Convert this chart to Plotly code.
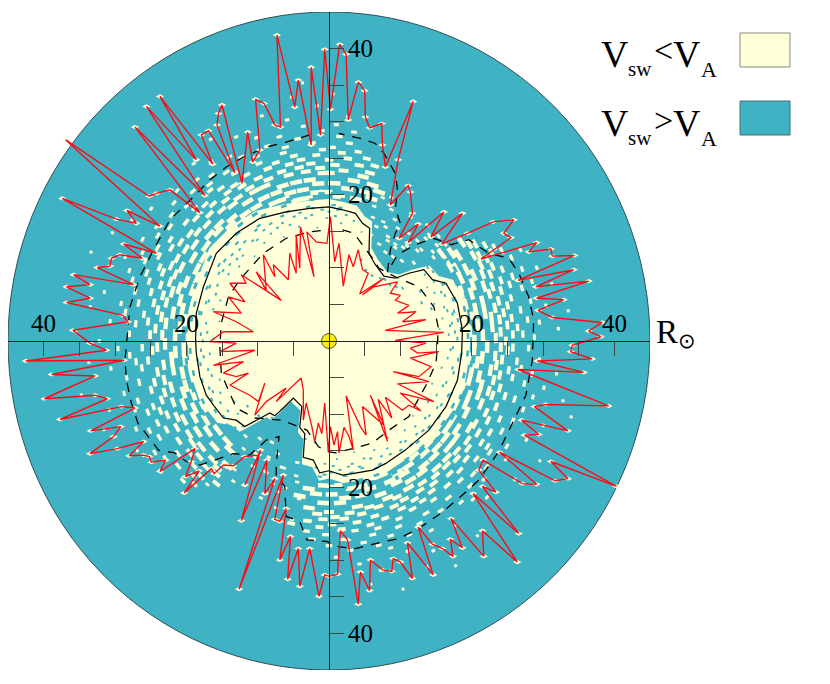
import numpy as np
import plotly.graph_objects as go

TEAL = '#3FB3C4'
CREAM = '#FFFFD9'
RED = '#FF0A14'

# curves, in solar radii (y read with the x scale, see Y_SCALE)
outer_x = [0.2, 1.5, 2.4, 2.7, 4.1, 5.0, 5.1, 5.7, 7.4, 7.5, 7.9, 11.8, 9.7, 8.6, 11.1, 11.4, 11.7, 9.8, 12.5, 11.1,
           16.1, 14.3, 18.7, 15.8, 19.4, 23.0, 25.9, 24.5, 25.5, 21.3, 29.1, 28.0, 31.1, 31.3, 34.4, 26.5, 34.3, 29.0,
           36.4, 29.1, 32.9, 29.3, 31.3, 38.3, 36.4, 38.1, 34.1, 33.9, 36.9, 29.2, 35.7, 26.5, 39.2, 30.4, 28.8, 33.5,
           27.0, 29.4, 27.4, 40.3, 31.1, 33.5, 31.7, 23.9, 29.1, 27.1, 21.6, 21.0, 23.4, 21.5, 26.6, 20.2, 26.4, 21.5,
           21.7, 17.1, 18.7, 17.0, 17.4, 15.9, 14.5, 12.5, 14.6, 11.0, 11.7, 10.0, 9.0, 8.8, 7.5, 5.8, 5.7, 4.4, 4.1,
           2.6, 1.6, 1.2, 0.0, -0.6, -1.4, -2.7, -4.1, -4.3, -5.8, -5.4, -6.9, -6.0, -6.9, -7.6, -6.4, -12.6, -7.6,
           -9.0, -8.7, -12.3, -9.6, -11.8, -9.9, -11.8, -13.4, -14.8, -16.1, -16.5, -20.3, -18.2, -20.1, -19.3, -18.8,
           -23.7, -22.9, -24.9, -25.2, -26.0, -28.0, -26.0, -29.7, -33.5, -30.2, -29.2, -33.4, -27.2, -29.1, -37.7,
           -31.1, -32.8, -39.9, -32.8, -38.9, -28.7, -42.5, -31.2, -33.5, -35.9, -28.2, -28.9, -36.8, -33.5, -36.8,
           -33.5, -35.8, -27.4, -32.5, -30.7, -30.5, -29.3, -26.2, -28.8, -24.2, -37.4, -29.8, -27.0, -28.3, -23.7,
           -36.9, -25.2, -24.2, -22.3, -18.1, -27.2, -17.4, -25.6, -18.6, -23.7, -16.3, -17.9, -16.9, -13.2, -15.7,
           -15.5, -15.0, -12.2, -11.4, -10.7, -9.7, -10.3, -9.1, -7.6, -6.8, -7.3, -4.8, -4.3, -2.5, -2.5, -1.2, -0.6]
outer_y = [32.5, 41.6, 40.2, 31.0, 36.3, 35.1, 31.4, 29.9, 30.5, 27.5, 24.4, 33.6, 25.4, 19.1, 21.8, 20.9, 17.9, 14.4,
           16.4, 13.8, 18.1, 14.6, 17.9, 13.6, 15.1, 16.7, 17.0, 15.1, 14.5, 11.5, 13.8, 12.5, 12.9, 11.9, 12.0, 8.5,
           10.0, 7.6, 8.4, 6.0, 5.8, 4.3, 3.3, 2.6, 1.4, 0.6, -0.6, -1.5, -2.5, -2.8, -4.4, -4.0, -9.1, -8.9, -9.2,
           -12.6, -11.1, -13.1, -13.2, -20.4, -16.9, -19.3, -19.6, -15.6, -20.1, -20.0, -16.7, -18.1, -21.2, -20.4,
           -27.0, -21.4, -31.0, -26.6, -30.2, -24.9, -29.0, -27.8, -30.2, -29.1, -28.5, -26.1, -32.8, -28.3, -33.3,
           -31.0, -30.5, -32.3, -32.1, -30.7, -35.0, -32.4, -36.9, -27.9, -26.6, -32.7, -33.0, -32.8, -35.8, -29.1,
           -34.4, -29.1, -33.4, -27.4, -30.7, -23.5, -25.3, -25.0, -18.8, -34.8, -19.3, -21.4, -16.7, -25.2, -15.3,
           -20.2, -16.0, -16.2, -17.5, -17.4, -18.6, -17.9, -21.3, -18.2, -19.0, -16.9, -15.1, -18.3, -16.7, -17.0,
           -16.2, -16.0, -16.1, -14.1, -15.1, -15.8, -13.4, -12.0, -12.6, -9.4, -9.2, -11.0, -8.1, -7.6, -8.1, -4.9,
           -4.7, -2.7, -2.8, -1.3, -0.3, 1.5, 2.7, 3.6, 5.4, 6.0, 7.6, 7.9, 9.3, 7.9, 10.3, 10.5, 11.6, 12.1, 11.6,
           13.6, 12.3, 20.0, 17.1, 16.5, 18.3, 16.1, 28.2, 20.3, 20.7, 21.2, 18.0, 30.0, 20.4, 32.9, 25.4, 34.3, 24.8,
           28.9, 29.5, 23.6, 30.3, 31.9, 33.1, 22.1, 29.3, 25.1, 26.8, 33.9, 33.3, 30.3, 30.0, 42.9, 32.8, 36.6, 27.5,
           38.4, 28.9, 40.9]

inner_x = [0.2, 0.8, 1.4, 2.0, 2.8, 3.4, 4.1, 4.7, 5.5, 4.3, 7.7, 4.7, 6.3, 9.6, 8.6, 10.0, 9.3, 11.2, 9.6, 12.2, 10.3,
           13.6, 7.9, 16.1, 9.3, 13.6, 11.4, 12.4, 15.4, 11.4, 14.3, 12.6, 9.0, 14.0, 9.6, 14.7, 10.0, 12.9, 11.2, 10.3,
           7.9, 8.8, 6.9, 8.2, 5.8, 7.7, 4.7, 5.2, 4.4, 2.4, 3.4, 2.8, 2.1, 1.4, 1.2, 0.7, 0.2, -0.1, -0.6, -1.0, -1.5,
           -2.0, -2.4, -3.2, -3.6, -3.6, -3.9, -7.4, -6.0, -8.8, -10.4, -9.0, -9.9, -11.1, -13.9, -11.3, -13.0, -14.8,
           -12.0, -16.2, -10.4, -15.3, -13.0, -16.7, -14.8, -10.6, -13.0, -16.2, -12.3, -14.1, -11.8, -13.9, -11.6,
           -12.3, -6.7, -10.2, -8.8, -9.2, -7.6, -7.8, -5.7, -5.5, -4.6, -4.6, -4.1, -4.0, -2.1, -3.1, -1.8, -0.3]
inner_y = [17.4, 11.1, 13.7, 7.7, 12.1, 10.4, 12.8, 10.0, 9.5, 6.6, 8.8, 6.5, 7.6, 8.3, 6.7, 6.4, 5.7, 5.0, 3.9, 4.1,
           2.7, 3.0, 1.5, 1.2, 0.1, -0.3, -1.0, -1.7, -1.5, -2.4, -3.6, -5.0, -4.3, -5.7, -6.0, -8.5, -7.3, -9.8, -9.0,
           -9.7, -7.9, -10.8, -8.2, -14.1, -7.6, -11.8, -9.2, -13.2, -12.0, -7.7, -15.3, -13.4, -12.1, -15.7, -12.7,
           -14.6, -12.0, -15.5, -8.7, -13.0, -11.5, -14.1, -12.0, -8.7, -11.1, -6.9, -5.2, -8.5, -6.6, -8.5, -10.4, -5.9,
           -8.5, -7.6, -6.2, -4.5, -5.0, -4.5, -2.9, -3.4, -1.3, -1.5, -0.3, -0.1, 1.3, 1.3, 2.7, 4.1, 3.9, 6.2, 5.5, 8.1,
           8.1, 9.3, 5.7, 9.7, 7.1, 12.1, 9.0, 10.7, 8.6, 12.3, 9.5, 14.9, 10.2, 16.0, 9.0, 15.3, 13.9, 13.7]

solid_x = [0, 1.9, 3.7, 4.7, 5.7, 5.6, 6.5, 7.7, 9.3, 11.2, 13.3, 14.5, 16.4, 18.0, 18.7, 18.6, 18.0, 16.4, 14.0, 10.7,
           7.9, 6.1, 3.3, 1.9, 0, -1.3, -2.2, -3.6, -3.4, -4.1, -3.8, -5.0, -6.4, -7.6, -8.3, -10.2, -11.8, -13.0,
           -14.8, -16.2, -17.2, -18.1, -18.6, -18.7, -18.6, -17.6, -15.8, -13.0, -9.7, -6.0, -2.7]
solid_y = [18.8, 18.4, 17.9, 16.5, 15.8, 12.3, 10.7, 9.1, 8.8, 9.5, 10.0, 8.6, 8.1, 5.3, 1.5, -1.7, -5.5, -9.2, -12.5,
           -15.3, -17.2, -18.1, -18.6, -18.8, -18.2, -18.5, -16.7, -16.3, -13.0, -12.1, -9.2, -8.0, -9.4, -10.5, -10.1,
           -11.1, -12.0, -11.1, -10.8, -9.0, -7.6, -5.0, -1.7, 0.1, 3.9, 7.6, 12.3, 15.1, 17.2, 18.1, 18.6]

dash_out_x = [-2.7, -6.0, -8.8, -12.0, -14.4, -16.7, -19.0, -22.3, -24.6, -26.5, -27.9, -28.4, -28.6, -28.4, -27.7,
              -26.8, -25.1, -23.9, -21.6, -20.0, -18.1, -15.5, -13.4, -11.1, -8.8, -7.0, -7.4, -7.4, -6.2, -6.0, -4.1,
              -3.1, -0.3, 0.9, 3.7, 7.0, 9.8, 12.6, 15.9, 18.7, 21.0, 23.8, 25.7, 27.6, 28.5, 28.7, 28.0, 26.6, 25.2,
              22.4, 19.6, 17.1, 14.7, 12.1, 9.6, 8.2, 8.6, 9.3, 10.0, 9.3, 9.6, 9.3, 7.7, 6.5, 4.4, 1.4]
dash_out_y = [28.9, 27.9, 27.2, 25.8, 24.4, 22.6, 20.2, 17.0, 12.8, 9.0, 4.8, 0.1, -2.7, -5.5, -8.7, -11.5, -13.7, -15.3,
              -15.7, -16.9, -17.4, -16.5, -15.8, -16.0, -13.9, -13.4, -17.2, -18.8, -20.4, -24.6, -25.3, -27.9, -28.1,
              -28.8, -29.1, -28.3, -27.7, -26.3, -24.0, -21.6, -19.5, -15.5, -11.5, -7.6, -2.7, 2.9, 6.2, 9.5, 11.6,
              12.3, 14.2, 13.5, 14.4, 13.5, 12.1, 9.7, 12.8, 15.1, 16.5, 18.6, 21.2, 23.5, 26.3, 27.7, 28.4, 29.1]

dash_in_x = [1.9, 3.5, 6.1, 7.0, 9.3, 12.6, 14.7, 15.3, 15.2, 15.0, 13.6, 11.2, 8.4, 6.1, 3.3, 0.9, -0.3, -1.5, -3.1,
             -5.0, -6.6, -10.4, -13.0, -14.1, -15.1, -15.3, -15.1, -14.1, -12.5, -9.2, -6.0, -2.7, 0.0]
dash_in_y = [15.6, 15.1, 11.6, 10.2, 9.0, 7.6, 4.8, 2.0, -0.8, -3.1, -6.2, -10.6, -12.5, -14.3, -15.1, -15.7, -15.5,
             -14.8, -12.5, -11.8, -11.1, -10.8, -9.4, -6.9, -4.5, -0.8, 2.5, 6.2, 8.6, 12.3, 14.4, 15.3, 15.6]

# small teal specks inside the solid line, position angles by radius (estimated patch by patch)
speck_156 = [6, 19, 28, 73, 96, 114, 132, 151, 170, 191, 212, 283, 302, 319, 338]
speck_162 = [11, 24, 34, 84, 105, 124, 141, 160, 179, 199, 218, 274, 293, 311, 329, 347]
speck_168 = [3, 16, 29, 40, 78, 91, 109, 119, 136, 147, 165, 186, 205, 224, 268, 287, 299, 316, 334, 352]
speck_171 = [7, 14, 23, 36, 87, 101, 115, 126, 139, 158, 176, 196, 214, 272, 281, 290, 306, 322, 339, 356]
speck_174 = [8, 21, 33, 45, 82, 98, 112, 128, 143, 154, 172, 193, 209, 228, 264, 279, 295, 308, 324, 341, 357]
speck_177 = [4, 12, 26, 40, 90, 106, 121, 135, 147, 162, 180, 187, 203, 222, 275, 284, 299, 314, 329, 348]
speck_180 = [1, 13, 26, 37, 86, 93, 103, 117, 131, 139, 149, 163, 177, 184, 201, 215, 232, 271, 285, 304, 317, 331, 346]
speck_183 = [9, 18, 31, 85, 97, 111, 124, 143, 156, 168, 190, 206, 219, 268, 280, 293, 309, 320, 336, 352]
speck_186 = [5, 18, 31, 88, 99, 108, 122, 134, 146, 157, 168, 188, 197, 211, 221, 266, 277, 291, 312, 326, 337, 354]
speck_wedge_r = [14, 14.5, 15, 12.6, 11.5, 12, 11.2, 10.8, 11, 11.5, 12, 12.8, 12.4, 13.2, 13.8, 14.2, 14, 14.5]
speck_wedge_t = [22, 28, 17, 35, 42, 38, 50, 56, 62, 47, 68, 240, 248, 233, 256, 226, 262, 218]

# teal holes in the cream just outside the solid line
hole_195 = [2, 13, 24, 34, 84, 97, 109, 118, 131, 137, 152, 165, 171, 184, 193, 205, 214, 271, 283, 290, 304, 312, 325,
            333, 346, 355]
hole_202 = [7, 18, 29, 88, 93, 106, 121, 128, 146, 158, 176, 188, 199, 209, 276, 287, 297, 308, 318, 329, 339, 351]

# cream patches on the teal, position angles by radius
cream_198 = [4, 15, 20, 31, 37, 79, 86, 99, 103, 116, 121, 133, 144, 150, 163, 166, 179, 190, 194, 207, 218, 224, 268,
             273, 288, 292, 307, 315, 319, 334, 341, 353]
cream_204 = [0, 9, 25, 29, 73, 91, 95, 108, 112, 127, 138, 140, 155, 160, 172, 183, 187, 201, 212, 227, 262, 279, 283,
             298, 303, 311, 324, 328, 345, 349, 357]
cream_210 = [6, 12, 18, 35, 76, 83, 100, 105, 119, 124, 131, 147, 152, 168, 175, 192, 197, 206, 216, 265, 271, 286, 294,
             300, 316, 321, 336, 339, 352]
cream_216 = [2, 21, 27, 33, 71, 88, 94, 110, 115, 129, 136, 143, 158, 165, 178, 184, 199, 209, 222, 259, 276, 282, 296,
             308, 313, 326, 333, 347, 354]
cream_222 = [10, 14, 24, 74, 81, 97, 102, 107, 121, 134, 139, 149, 161, 170, 186, 190, 203, 214, 230, 268, 274, 289,
             301, 306, 319, 323, 341, 344, 358]
cream_230 = [5, 8, 19, 36, 78, 90, 92, 113, 117, 126, 145, 154, 163, 174, 181, 196, 208, 219, 225, 263, 280, 291, 299,
             311, 316, 329, 338, 350]
cream_234 = [1, 16, 23, 30, 85, 98, 104, 123, 130, 137, 157, 167, 178, 188, 201, 213, 228, 270, 284, 294, 304, 320, 331,
             343, 355]
cream_237 = [11, 26, 34, 76, 93, 111, 118, 141, 148, 160, 172, 193, 206, 216, 266, 277, 287, 309, 314, 325, 347, 352]
cream_241 = [3, 7, 18, 29, 88, 100, 106, 127, 134, 152, 165, 182, 197, 221, 229, 272, 281, 296, 302, 318, 336, 342, 358]
cream_244 = [13, 22, 33, 80, 96, 114, 120, 143, 155, 170, 176, 190, 209, 225, 268, 275, 292, 307, 323, 329, 349, 354]
cream_248 = [0, 9, 27, 75, 90, 103, 125, 131, 147, 162, 183, 199, 204, 218, 263, 285, 299, 313, 334, 345]
cream_251 = [5, 16, 24, 84, 99, 110, 122, 138, 158, 168, 178, 193, 213, 231, 271, 279, 294, 305, 320, 339, 357]
cream_255 = [11, 19, 31, 78, 94, 107, 117, 133, 150, 174, 186, 202, 222, 258, 267, 288, 301, 316, 327, 351]
cream_258 = [2, 7, 28, 86, 101, 126, 141, 157, 165, 195, 208, 226, 274, 283, 297, 310, 331, 343, 358]
cream_262 = [13, 22, 81, 92, 112, 136, 148, 172, 182, 200, 216, 263, 278, 292, 304, 322, 336, 349]
cream_265 = [4, 17, 29, 89, 104, 120, 129, 154, 162, 188, 205, 224, 269, 285, 314, 327, 354]
cream_272 = [2, 9, 19, 27, 84, 95, 103, 112, 122, 128, 137, 145, 152, 160, 169, 175, 186, 192, 201, 209, 219, 226, 265,
             274, 283, 291, 300, 308, 318, 326, 333, 343, 352]
cream_280 = [6, 15, 24, 87, 99, 108, 116, 126, 133, 142, 149, 157, 166, 178, 184, 197, 206, 215, 223, 270, 280, 288,
             297, 304, 315, 322, 337, 348, 358]
cream_288 = [1, 11, 20, 83, 92, 104, 119, 130, 139, 147, 155, 163, 172, 190, 199, 212, 276, 284, 293, 310, 319, 330,
             341, 351]
cream_296 = [5, 16, 25, 88, 97, 110, 124, 136, 152, 161, 170, 182, 194, 204, 217, 272, 287, 299, 313, 327, 345, 355]
cream_308 = [9, 19, 85, 101, 115, 128, 144, 158, 175, 187, 209, 278, 291, 305, 316, 334, 348]
cream_322 = [3, 14, 93, 107, 121, 149, 168, 180, 197, 283, 297, 324, 339, 352]
cream_338 = [7, 89, 99, 154, 172, 185, 201, 280, 294, 308, 331, 346]
cream_355 = [96, 160, 178, 192, 287, 300, 343]

# small cream flecks where the curves pinch together, outside the solid line
fleck_t = [42, 47, 52, 57, 62, 67, 44, 50, 55, 60, 65, 71, 40, 46, 53, 58, 64, 69, 43, 49, 56, 61, 66, 39, 45, 51, 63,
           70, 228, 234, 240, 245, 250, 256, 231, 237, 243, 248, 253, 259, 226, 233, 239, 246, 252, 258, 229, 236, 242,
           249, 255, 261, 41, 48, 54, 59, 68, 38, 46, 230, 238, 244, 251, 257, 235, 247]
fleck_r = [16, 15, 14.6, 14.5, 15, 17, 18, 17, 16.2, 16.5, 18, 19.5, 19, 19.5, 18.5, 18.2, 20, 21, 21, 21, 20.5, 19,
           21.5, 21, 17.5, 16.5, 17.5, 18, 17.5, 16.5, 16, 17, 18.5, 19, 19, 19, 20, 21, 21, 22, 23, 22, 23, 23.5, 24,
           25, 26, 18.5, 18, 18.5, 17.2, 16.8, 20, 18.5, 15.8, 16, 15.7, 18.6, 20.2, 22.5, 20.2, 20, 21.8, 19.8, 23.4,
           22.6]

Y_SCALE = 7.13 / 7.31  # x and y px/Rsun differ in the original, y above was read with the x scale
HALO = 1.06  # the cream runs on a little past the solid line

ticks = [-40, -35, -30, -25, -20, -15, -10, -5, 5, 10, 15, 20, 25, 30, 35, 40]
label_x = [-40, -20, 20, 40]
label_y = [40, 20, -20, -40]


def add_patches(fig, radii, angles, half_len, width, color):
    # short arcs along the local circle, None separated
    xs, ys = [], []
    for r, a in zip(radii, np.radians(angles)):
        dt = half_len / r
        for t in (a - dt, a + dt):
            xs.append(r * np.cos(t))
            ys.append(r * np.sin(t))
        xs.append(None)
        ys.append(None)
    fig.add_trace(go.Scatter(x=xs, y=ys, mode='lines', line=dict(color=color, width=width), hoverinfo='skip'))


def add_ring(fig, radius, angles, half_len, width, color=CREAM):
    add_patches(fig, [radius] * len(angles), angles, half_len, width, color)


def closed(vals, scale=1.0):
    return [v * scale for v in vals] + [vals[0] * scale]


fig = go.Figure()

# cream region, a bit past the solid line
fig.add_trace(go.Scatter(x=closed(solid_x, HALO), y=closed(solid_y, Y_SCALE * HALO), mode='lines', fill='toself',
                         fillcolor=CREAM, line=dict(width=0), hoverinfo='skip'))

for r, angs, hl, w in [(19.8, cream_198, 0.85, 4.5), (20.4, cream_204, 0.85, 4.5),
                       (21.0, cream_210, 0.85, 4.5), (21.6, cream_216, 0.85, 4.5), (22.2, cream_222, 0.85, 4.5),
                       (23.0, cream_230, 0.8, 4.2), (23.4, cream_234, 0.7, 4), (23.7, cream_237, 0.7, 4),
                       (24.1, cream_241, 0.65, 4), (24.4, cream_244, 0.65, 3.8), (24.8, cream_248, 0.6, 3.8),
                       (25.1, cream_251, 0.6, 3.8), (25.5, cream_255, 0.55, 3.6), (25.8, cream_258, 0.55, 3.6),
                       (26.2, cream_262, 0.5, 3.4), (26.5, cream_265, 0.5, 3.4), (27.2, cream_272, 0.5, 3.2),
                       (28.0, cream_280, 0.45, 3.2), (28.8, cream_288, 0.4, 3), (29.6, cream_296, 0.35, 3),
                       (30.8, cream_308, 0.3, 3), (32.2, cream_322, 0.25, 3), (33.8, cream_338, 0.2, 3),
                       (35.5, cream_355, 0.2, 3)]:
    add_ring(fig, r, angs, hl, w)

for r, angs, hl, w in [(15.6, speck_156, 0.12, 1.6), (16.2, speck_162, 0.15, 1.8), (16.8, speck_168, 0.18, 1.8),
                       (17.1, speck_171, 0.2, 2), (17.4, speck_174, 0.2, 2), (17.7, speck_177, 0.22, 2),
                       (18.0, speck_180, 0.25, 2), (18.3, speck_183, 0.28, 2.2), (18.6, speck_186, 0.3, 2.2),
                       (19.5, hole_195, 0.4, 2.6), (20.2, hole_202, 0.45, 3)]:
    add_ring(fig, r, angs, hl, w, TEAL)

add_patches(fig, speck_wedge_r, speck_wedge_t, 0.2, 2, TEAL)
add_patches(fig, fleck_r, fleck_t, 0.3, 2.6, CREAM)

fig.add_trace(go.Scatter(x=dash_out_x, y=[v * Y_SCALE for v in dash_out_y], mode='lines',
                         line=dict(color='black', width=1.3, dash='9px,8px'), hoverinfo='skip'))
fig.add_trace(go.Scatter(x=dash_in_x, y=[v * Y_SCALE for v in dash_in_y], mode='lines',
                         line=dict(color='black', width=1.3, dash='9px,8px'), hoverinfo='skip'))
fig.add_trace(go.Scatter(x=closed(solid_x), y=closed(solid_y, Y_SCALE), mode='lines',
                         line=dict(color='black', width=1.2), hoverinfo='skip'))

# cream dots under the outer red vertices
fig.add_trace(go.Scatter(x=outer_x, y=[v * Y_SCALE for v in outer_y], mode='markers',
                         marker=dict(color=CREAM, size=6, symbol='diamond-wide'), hoverinfo='skip'))
fig.add_trace(go.Scatter(x=closed(outer_x), y=closed(outer_y, Y_SCALE), mode='lines',
                         line=dict(color=RED, width=1.4), hoverinfo='skip'))
fig.add_trace(go.Scatter(x=closed(inner_x), y=closed(inner_y, Y_SCALE), mode='lines',
                         line=dict(color=RED, width=1.3), hoverinfo='skip'))

fig.add_trace(go.Scatter(x=[0], y=[0], mode='markers', hoverinfo='skip',
                         marker=dict(color='#FFE81A', size=15, line=dict(color='#555533', width=1))))

# page pixels to paper fractions, the page body has an 8 px margin
W, H = 814, 668


def px_x(p):
    return (p - 8) / W


def px_y(p):
    return 1 - (p - 8) / H


shapes = [
    dict(type='circle', xref='x', yref='y', x0=-45, x1=45, y0=-45, y1=45, fillcolor=TEAL,
         line=dict(color='#2F4F55', width=1), layer='below'),
    dict(type='rect', xref='paper', yref='paper', x0=px_x(740), x1=px_x(790), y0=px_y(33), y1=px_y(67),
         fillcolor=CREAM, line=dict(color='#8A8A80', width=1)),
    dict(type='rect', xref='paper', yref='paper', x0=px_x(740), x1=px_x(790), y0=px_y(101), y1=px_y(135),
         fillcolor=TEAL, line=dict(color='#4A6A78', width=1)),
]

annotations = []
for v in label_x:
    annotations.append(dict(x=v, y=0, xref='x', yref='y', text=str(abs(v)), showarrow=False, yshift=18,
                            font=dict(size=25, family='Liberation Serif', color='black')))
for v in label_y:
    annotations.append(dict(x=0, y=v, xref='x', yref='y', text=str(abs(v)), showarrow=False, xshift=31,
                            font=dict(size=25, family='Liberation Serif', color='black')))


def page_text(x, y, text, size, family='Liberation Serif'):
    annotations.append(dict(x=px_x(x), y=px_y(y), xref='paper', yref='paper', xanchor='left', yanchor='middle',
                            showarrow=False, text=text, font=dict(size=size, family=family, color='black')))


page_text(654, 332, 'R', 33)
page_text(676, 341, '⊙', 21, 'DejaVu Sans')

# legend labels, row offset 69 px
for row_y, sign in [(0, '&lt;'), (69, '&gt;')]:
    page_text(599, 54 + row_y, 'V', 38)
    page_text(626, 69 + row_y, 'sw', 21)
    page_text(652, 51 + row_y, sign, 34)
    page_text(671, 54 + row_y, 'V', 38)
    page_text(699, 69 + row_y, 'A', 22)

fig.update_layout(
    width=W,
    height=H,
    showlegend=False,
    margin=dict(l=0, r=0, t=0, b=0),
    paper_bgcolor='white',
    plot_bgcolor='rgba(0,0,0,0)',
    shapes=shapes,
    annotations=annotations,
)
fig.update_xaxes(
    range=[-45, 45], domain=[px_x(8), px_x(650)], anchor='free', position=px_y(341), side='bottom',
    tickvals=ticks, ticks='outside', ticklen=14, tickcolor='#444444', tickwidth=1, showticklabels=False,
    showgrid=False, zeroline=False, showline=True, linecolor='#222222', linewidth=1,
)
fig.update_yaxes(
    range=[-45, 45], domain=[px_y(670), px_y(12)], anchor='free', position=px_x(329), side='right',
    tickvals=ticks, ticks='outside', ticklen=14, tickcolor='#444444', tickwidth=1, showticklabels=False,
    showgrid=False, zeroline=False, showline=True, linecolor='#222222', linewidth=1,
)

fig.write_html("out.html")
